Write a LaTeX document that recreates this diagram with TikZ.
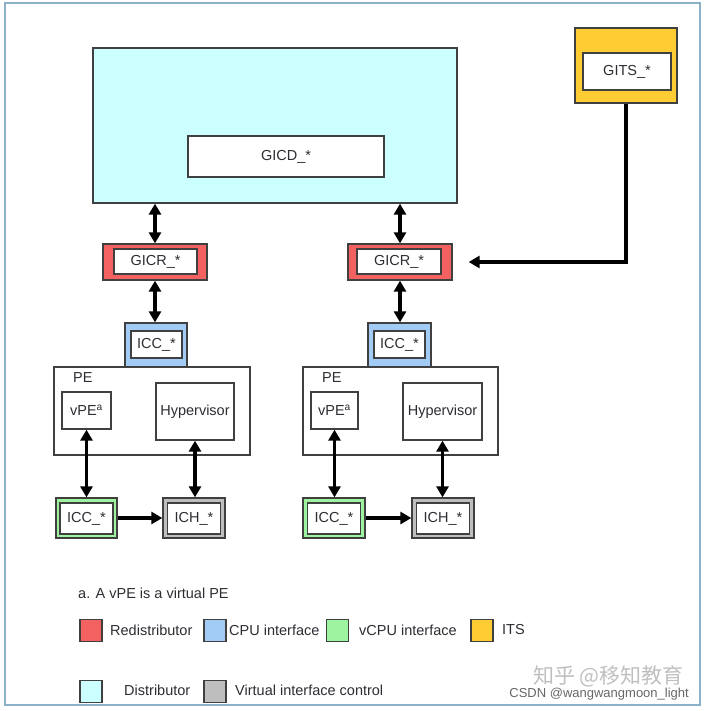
\documentclass[tikz,border=0pt]{standalone}
\usepackage{fontspec}
\setmainfont{Liberation Sans}
\newfontfamily\cjkfont{Noto Sans CJK SC}
\usetikzlibrary{arrows.meta}
\definecolor{distcol}{RGB}{204,255,255}
\definecolor{redistcol}{RGB}{243,98,96}
\definecolor{cpucol}{RGB}{162,204,246}
\definecolor{vcpucol}{RGB}{158,244,158}
\definecolor{itscol}{RGB}{255,204,51}
\definecolor{vifcol}{RGB}{190,190,190}
\definecolor{framecol}{RGB}{140,176,200}
\definecolor{txtcol}{RGB}{45,45,52}
\tikzset{
  box/.style={draw=black!75, line width=1.3pt, fill=white, inner sep=0pt, text=txtcol},
  unit/.style={box, fill=#1},
  swatch/.style={box, fill=#1, minimum width=22pt, minimum height=22pt},
  lbl/.style={anchor=west, inner sep=0pt, text=txtcol},
  link/.style={line width=3.2pt, {Triangle[length=11pt,width=12pt]}-{Triangle[length=11pt,width=12pt]}},
  onelink/.style={line width=3.2pt, -{Triangle[length=11pt,width=12pt]}},
}

\begin{document}
\begin{tikzpicture}[x=1pt,y=-1pt,font=\fontsize{14.5}{17}\selectfont]
\useasboundingbox (0,0) rectangle (705,711);
\draw [framecol, line width=1.2pt] (5,3) rectangle (700,705);

% distributor and ITS
\node [unit=distcol, minimum width=364pt, minimum height=155pt] (dist) at (275,125.5) {};
\node [box, minimum width=196pt, minimum height=41pt] (gicd) at (286,156.5) {GICD\_*};
\node [unit=itscol, minimum width=102pt, minimum height=75pt] (itsbox) at (626,65.5) {};
\node [box, minimum width=88pt, minimum height=37pt] (gits) at (627,71.5) {GITS\_*};

% redistributors
\node [unit=redistcol, minimum width=104pt, minimum height=36pt] (gicrA) at (155,262) {};
\node [box, minimum width=83pt, minimum height=25pt] (gicrAin) at (155.5,261.5) {GICR\_*};
\node [unit=redistcol, minimum width=104pt, minimum height=36pt] (gicrB) at (400,262) {};
\node [box, minimum width=84pt, minimum height=25pt] (gicrBin) at (399,261.5) {GICR\_*};

% PEs
\node [box, minimum width=196pt, minimum height=88pt] (peA) at (152,411) {};
\node [lbl] (peAlbl) at (73,378) {PE};
\node [box, minimum width=49pt, minimum height=37pt] (vpeA) at (86.5,410.5) {vPE\textsuperscript{a}};
\node [box, minimum width=78pt, minimum height=57pt] (hypA) at (195,411.5) {Hypervisor};
\node [box, minimum width=195pt, minimum height=88pt] (peB) at (400.5,411) {};
\node [lbl] (peBlbl) at (322,378) {PE};
\node [box, minimum width=47pt, minimum height=37pt] (vpeB) at (334.5,410.5) {vPE\textsuperscript{a}};
\node [box, minimum width=79pt, minimum height=57pt] (hypB) at (442.5,411.5) {Hypervisor};

% CPU interfaces
\node [unit=cpucol, minimum width=62pt, minimum height=44pt] (iccA) at (156,345) {};
\node [box, minimum width=51pt, minimum height=27pt] (iccAin) at (156.5,344.5) {ICC\_*};
\node [unit=cpucol, minimum width=63pt, minimum height=44pt] (iccB) at (399.5,345) {};
\node [box, minimum width=51pt, minimum height=27pt] (iccBin) at (399.5,344.5) {ICC\_*};

% vCPU interfaces and virtual interface control
\node [unit=vcpucol, minimum width=61pt, minimum height=40pt] (vccA) at (86.5,518) {};
\node [box, minimum width=53pt, minimum height=31pt] (vccAin) at (86.5,518.5) {ICC\_*};
\node [unit=vifcol, minimum width=62pt, minimum height=40pt] (ichA) at (194,518) {};
\node [box, minimum width=53pt, minimum height=31pt] (ichAin) at (194,518.5) {ICH\_*};
\node [unit=vcpucol, minimum width=62pt, minimum height=40pt] (vccB) at (334,518) {};
\node [box, minimum width=53pt, minimum height=31pt] (vccBin) at (334,518.5) {ICC\_*};
\node [unit=vifcol, minimum width=62pt, minimum height=40pt] (ichB) at (443,518) {};
\node [box, minimum width=53pt, minimum height=31pt] (ichBin) at (443,518.5) {ICH\_*};

% connections
\draw [link] (dist.south -| gicrA.north) -- (gicrA.north);
\draw [link] (dist.south -| gicrB.north) -- (gicrB.north);
\draw [link] (gicrA.south) -- (gicrA.south |- iccA.north);
\draw [link] (gicrB.south) -- (gicrB.south |- iccB.north);
\coordinate (itsin) at ([xshift=16pt]gicrB.east);
\draw [onelink, line join=miter] (itsbox.south) |- (itsin);
\draw [link] (vpeA.south) -- (vpeA.south |- vccA.north);
\draw [link] (hypA.south) -- (hypA.south |- ichA.north);
\draw [link] (vpeB.south) -- (vpeB.south |- vccB.north);
\draw [link] (hypB.south) -- (hypB.south |- ichB.north);
\draw [onelink] (vccA.east) -- (ichA.west);
\draw [onelink] (vccB.east) -- (ichB.west);

% legend
\node [lbl] (note) at (78,593) {a. A vPE is a virtual PE};
\node [swatch=redistcol] (keyred) at (91,630.5) {};
\node [lbl] (keyredlbl) at (110,630) {Redistributor};
\node [swatch=cpucol] (keycpu) at (215,630.5) {};
\node [lbl] (keycpulbl) at (229,630) {CPU interface};
\node [swatch=vcpucol] (keyvcpu) at (337.5,630.5) {};
\node [lbl] (keyvcpulbl) at (359,630) {vCPU interface};
\node [swatch=itscol] (keyits) at (482,630.5) {};
\node [lbl] (keyitslbl) at (502,630) {ITS};
\node [swatch=distcol] (keydist) at (91,691.5) {};
\node [lbl] (keydistlbl) at (124,690) {Distributor};
\node [swatch=vifcol] (keyvif) at (215,691.5) {};
\node [lbl] (keyviflbl) at (235,690) {Virtual interface control};

% watermarks
\node [anchor=west, inner sep=0pt, text=black!25, font=\cjkfont\fontsize{21}{21}\selectfont] (zhihu) at (533,676) {知乎 @移知教育};
\node [anchor=east, inner sep=0pt, text=black!60, font=\fontsize{13}{13}\selectfont] (csdn) at (689,694) {CSDN @wangwangmoon\_light};
\end{tikzpicture}
\end{document}
